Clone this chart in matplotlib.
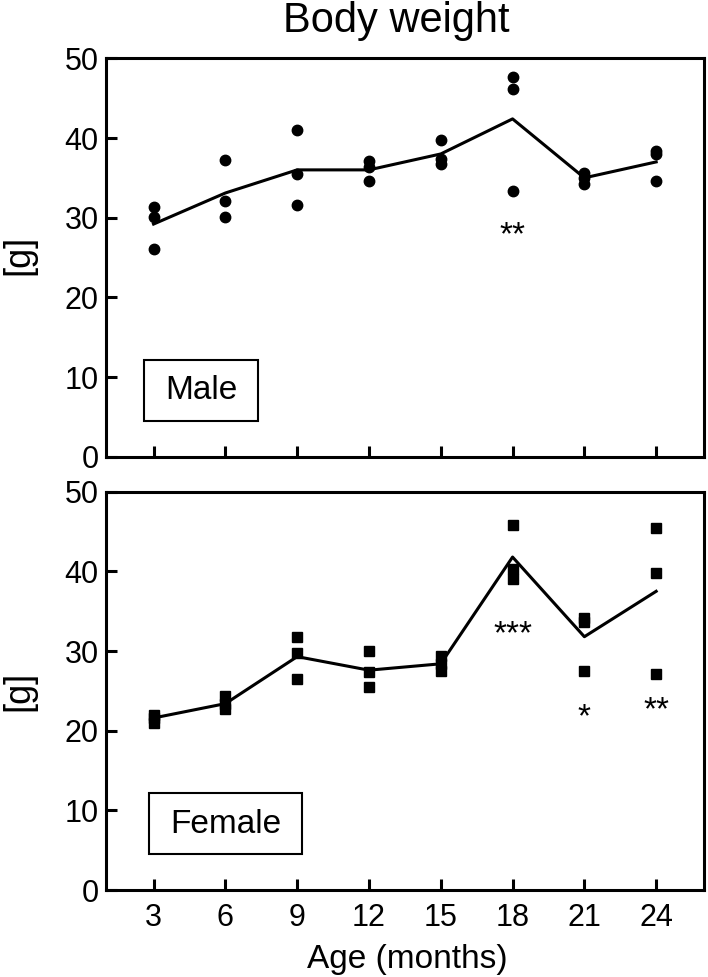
import matplotlib
matplotlib.use('Agg')
import matplotlib.pyplot as plt
from matplotlib.patches import Rectangle

# 月龄
ages = [3, 6, 9, 12, 15, 18, 21, 24]

# 雄性体重 (每个月龄3只)
male_a = [31.3, 37.3, 41.0, 37.1, 39.7, 47.6, 35.6, 38.4]
male_b = [30.1, 32.1, 35.5, 36.4, 37.4, 46.2, 35.0, 38.0]
male_c = [26.1, 30.1, 31.6, 34.6, 36.8, 33.4, 34.2, 34.6]
male_mean = [29.2, 33.1, 36.0, 36.0, 38.0, 42.4, 35.0, 37.0]

# 雌性体重
female_a = [22.0, 24.3, 31.8, 30.0, 29.4, 45.8, 34.2, 45.5]
female_b = [21.6, 23.4, 29.8, 27.4, 28.4, 40.3, 33.6, 39.8]
female_c = [21.0, 22.7, 26.5, 25.5, 27.5, 39.1, 27.5, 27.1]
female_mean = [21.6, 23.4, 29.3, 27.6, 28.4, 41.8, 31.8, 37.5]

# 显著性标记 (x, 文本, 星号中心的y)
male_sig = [(18, '**', 28.7)]
female_sig = [(18, '***', 33.1), (21, '*', 22.6), (24, '**', 23.5)]

plt.rcParams['font.family'] = ['Liberation Sans', 'DejaVu Sans']

fig = plt.figure(figsize=(7.08, 9.77), dpi=100)
ax1 = fig.add_axes([0.1493, 0.5325, 0.8451, 0.4078])
ax2 = fig.add_axes([0.1493, 0.0890, 0.8451, 0.4077])


def draw(ax, a, b, c, mean, marker, sig, label, box):
    for s in (a, b, c):
        ax.plot(ages, s, linestyle='none', marker=marker, color='black',
                markersize=7.5 if marker == 'o' else 7.2)
    ax.plot(ages, mean, color='black', linewidth=2.2)
    # 星号: 基线往下移约半个字号, 使星号中心落在给定的y上
    for x, t, y in sig:
        ax.annotate(t, (x, y), xytext=(0, -0.5 * 24), textcoords='offset points',
                    ha='center', va='baseline', fontsize=24)
    ax.set_xlim(1, 26)
    ax.set_ylim(0, 50)
    ax.set_xticks(ages)
    ax.set_yticks([0, 10, 20, 30, 40, 50])
    ax.tick_params(direction='in', length=8, width=2.2, labelsize=22,
                   top=False, right=False, pad=5)
    for sp in ax.spines.values():
        sp.set_linewidth(2.2)
    ax.add_patch(Rectangle((box[0], 0.0904), box[1], 0.153, transform=ax.transAxes,
                           facecolor='white', edgecolor='black', linewidth=1.5,
                           zorder=3))
    ax.text(box[0] + box[1] / 2, 0.144, label, transform=ax.transAxes,
            ha='center', va='baseline', fontsize=24, zorder=4)


draw(ax1, male_a, male_b, male_c, male_mean, 'o', male_sig, 'Male', (0.064, 0.1905))
draw(ax2, female_a, female_b, female_c, female_mean, 's', female_sig, 'Female', (0.0724, 0.2557))

ax1.tick_params(labelbottom=False)
ax2.tick_params(axis='x', pad=9)

fig.text(0.027, 0.739, '[g]', rotation=90, ha='center', va='center', fontsize=26)
fig.text(0.027, 0.293, '[g]', rotation=90, ha='center', va='center', fontsize=26)
fig.text(0.5755, 0.0092, 'Age (months)', ha='center', va='baseline', fontsize=24)
fig.text(0.560, 0.967, 'Body weight', ha='center', va='baseline', fontsize=30)

fig.savefig('out.png', dpi=100)
